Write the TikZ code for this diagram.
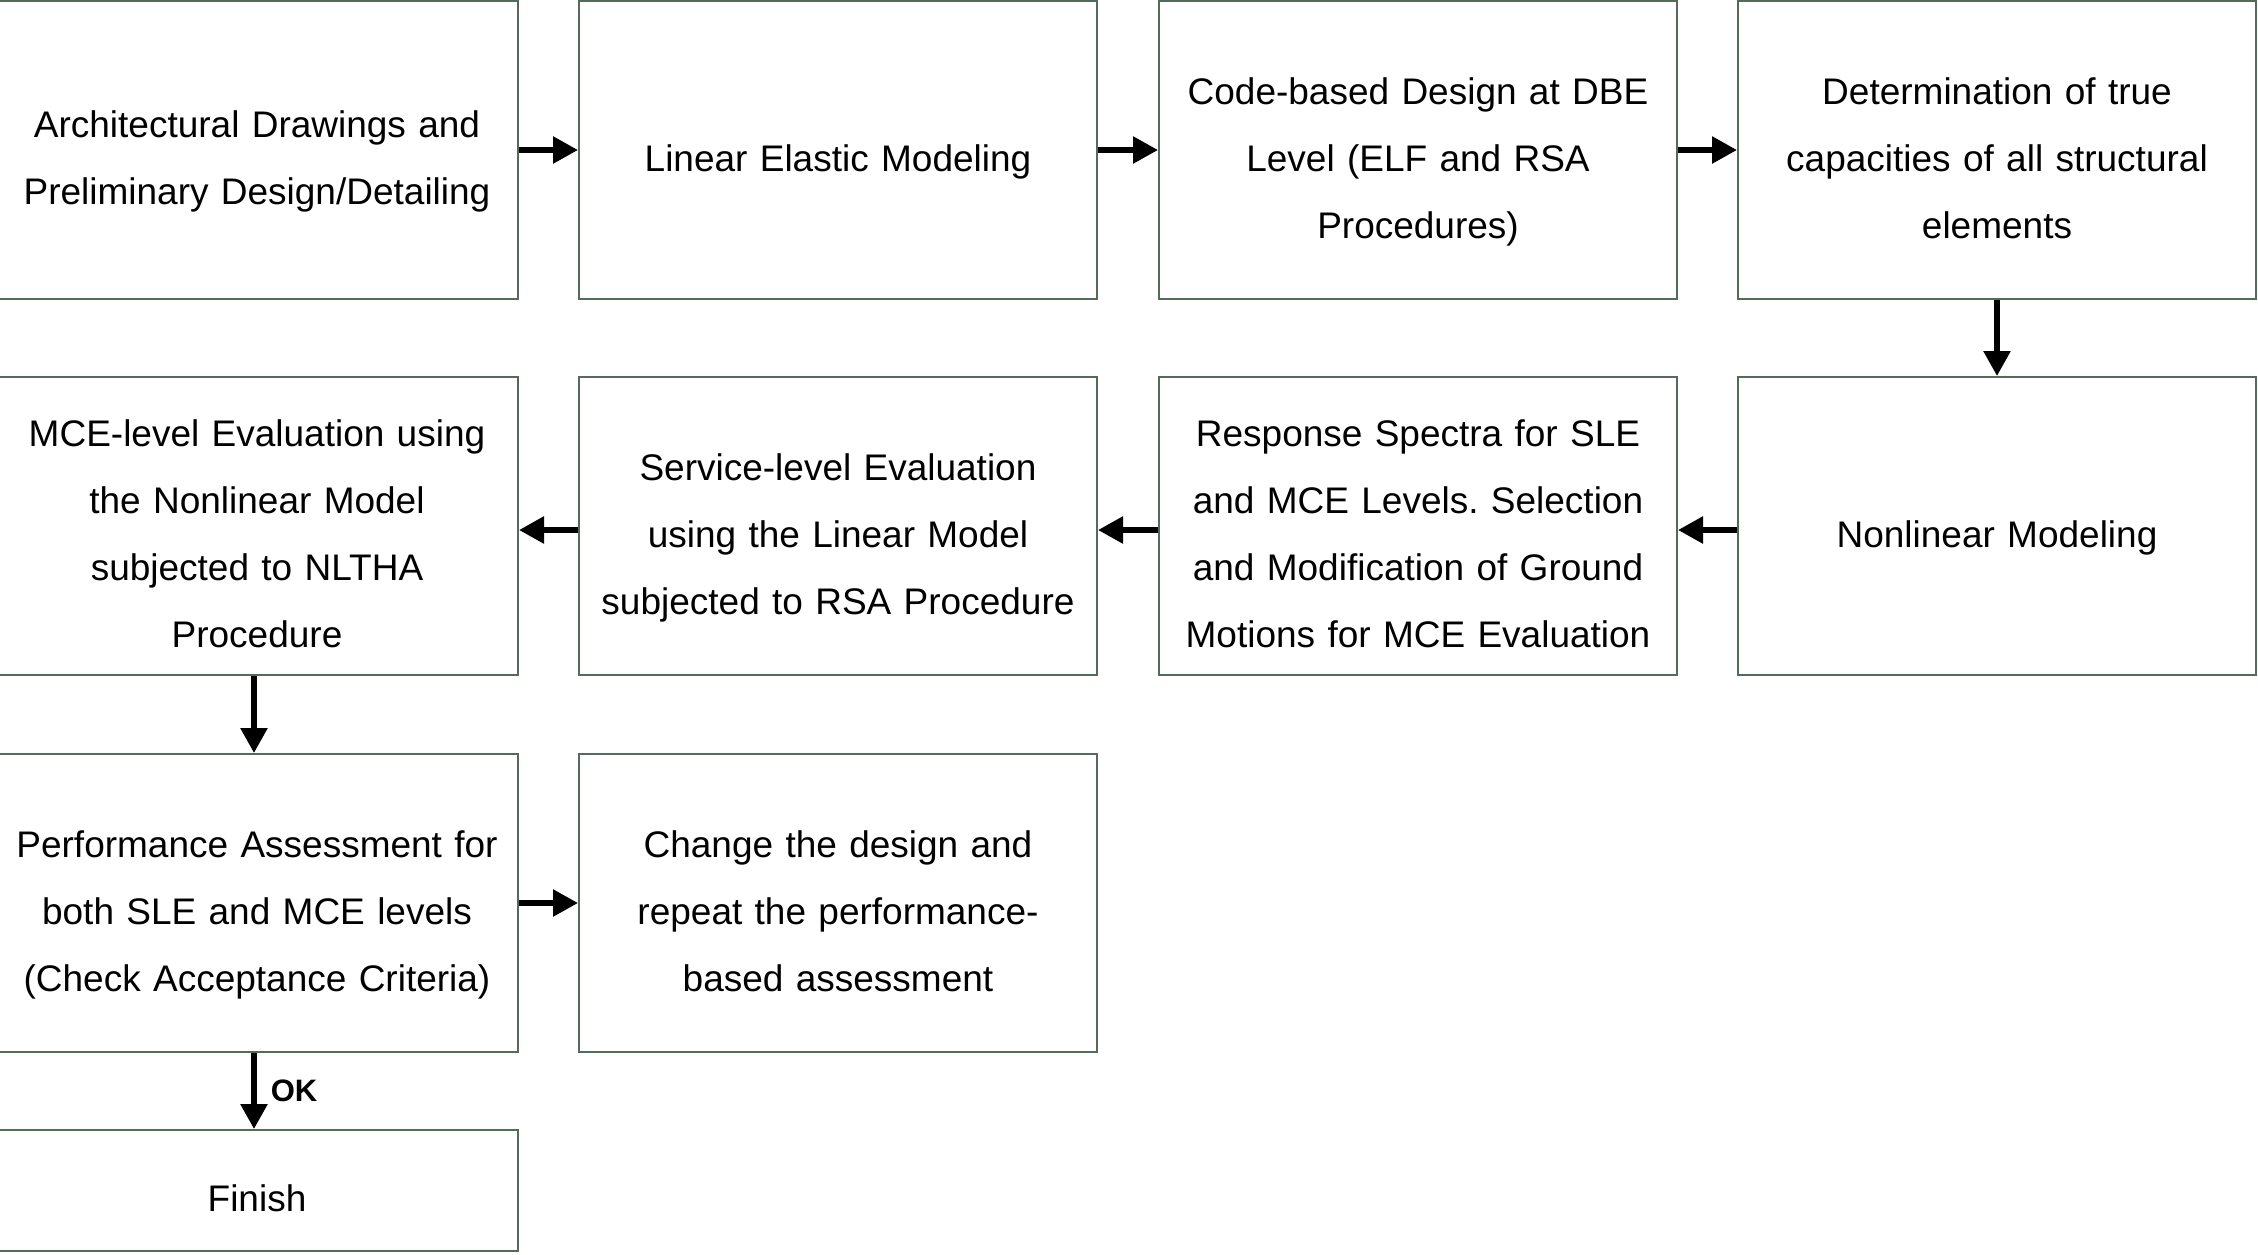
\documentclass[tikz,border=0pt]{standalone}
\usepackage{fontspec}
\setmainfont{Liberation Sans}
\usetikzlibrary{arrows.meta}

\definecolor{boxline}{RGB}{84,107,90}

\begin{document}
\frenchspacing
\begin{tikzpicture}[x=0.5pt,y=-0.5pt,
    block/.style={rectangle,draw=boxline,line width=1pt,minimum width=259pt,
      minimum height=149pt,inner sep=0pt,text width=250pt,align=center,
      font=\fontsize{18.5}{33.5}\selectfont,
      execute at begin node={\rule{0pt}{27pt}},
      execute at end node={\rule[-5.9pt]{0pt}{0pt}}},
    wideblock/.style={block,minimum width=261pt},
    flow/.style={line width=2.8pt,-{Triangle[length=12.5pt,width=13pt]}}]

\useasboundingbox (0,0) rectangle (2258,1254);

% First row, left to right
\node[wideblock] (arch) at (257,150) {Architectural Drawings and\\Preliminary Design/Detailing};
\node[block] (linear) at (838,150) {Linear Elastic Modeling};
\node[block] (code) at (1418,150) {Code-based Design at DBE\\Level (ELF and RSA\\Procedures)};
\node[block] (capac) at (1997,150) {Determination of true\\capacities of all structural\\elements};

% Second row, right to left
\node[block] (nonlin) at (1997,526) {Nonlinear Modeling};
\node[block] (spectra) at (1418,526) {Response Spectra for SLE\\and MCE Levels. Selection\\and Modification of Ground\\Motions for MCE Evaluation};
\node[block] (sle) at (838,526) {Service-level Evaluation\\using the Linear Model\\subjected to RSA Procedure};
\node[wideblock] (mce) at (257,526) {MCE-level Evaluation using\\the Nonlinear Model\\subjected to NLTHA\\Procedure};

% Assessment and end
\node[wideblock] (perf) at (257,903) {Performance Assessment for\\both SLE and MCE levels\\(Check Acceptance Criteria)};
\node[block] (change) at (838,903) {Change the design and\\repeat the performance-\\based assessment};
\node[wideblock,minimum height=60.5pt] (finish) at (257,1190.5) {Finish};

% Arrows
\draw[flow] (arch) -- (linear);
\draw[flow] (linear) -- (code);
\draw[flow] (code) -- (capac);
\draw[flow] (capac) -- (nonlin);
\draw[flow] ([yshift=-2pt]nonlin.west) -- ([yshift=-2pt]spectra.east);
\draw[flow] ([yshift=-2pt]spectra.west) -- ([yshift=-2pt]sle.east);
\draw[flow] ([yshift=-2pt]sle.west) -- ([yshift=-2pt]mce.east);
\draw[flow] ([xshift=-1.5pt]mce.south) -- ([xshift=-1.5pt]perf.north);
\draw[flow] (perf) -- (change);
\draw[flow] ([xshift=-1.5pt]perf.south) -- node[right=7pt,inner sep=0pt,font=\fontsize{15.5}{18}\selectfont\bfseries] (ok) {OK} ([xshift=-1.5pt]finish.north);

\end{tikzpicture}
\end{document}
